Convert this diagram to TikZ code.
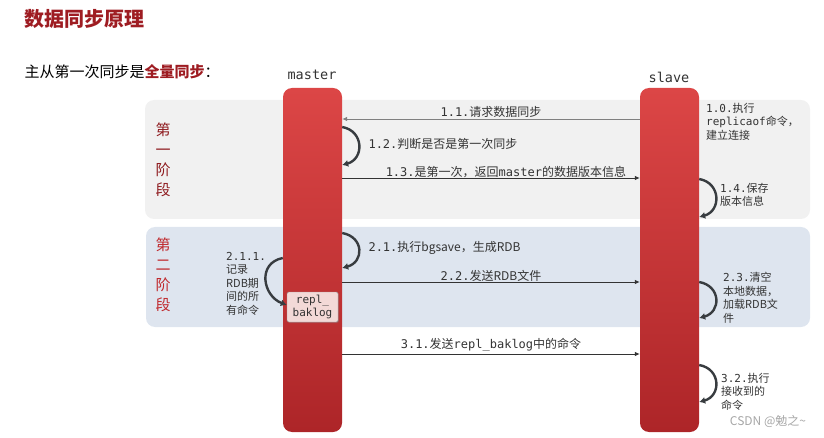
\documentclass[tikz,border=0pt]{standalone}
\usepackage{fontspec}
\setmainfont{Noto Sans CJK SC}
\newfontfamily\monofont{DejaVu Sans Mono}
\usetikzlibrary{arrows.meta,shadows}
\definecolor{titlered}{HTML}{9E1C22}
\definecolor{phaseonered}{HTML}{8E1A1E}
\definecolor{phasetwored}{HTML}{C0282C}
\definecolor{bartop}{HTML}{DC4646}
\definecolor{barbot}{HTML}{AD2528}
\definecolor{phaseone}{HTML}{F1F1F1}
\definecolor{phasetwo}{HTML}{DEE5EF}
\definecolor{labelgray}{HTML}{333333}
\definecolor{loopgray}{HTML}{383C40}
\definecolor{replfill}{HTML}{F3D9D7}
\newcommand{\mn}[1]{{\monofont #1}}
\begin{document}
\begin{tikzpicture}[x=1pt,y=-1pt]
  \tikzstyle{bar}=[draw=none,rectangle,rounded corners=9pt,minimum width=59pt,minimum height=344pt,inner sep=0pt,top color=bartop,bottom color=barbot]
  \tikzstyle{msg}=[draw,line width=0.8pt,-{Latex[length=5pt,width=4.5pt]}]
  \tikzstyle{selfloop}=[draw,loopgray,line width=2.4pt,-{Latex[length=6pt,width=7pt]}]
  \tikzstyle{lbl}=[text=labelgray,font=\fontsize{12}{14}\selectfont]
  \tikzstyle{note}=[text=labelgray,align=left,anchor=north west,inner sep=0pt,font=\fontsize{11}{13.5}\selectfont]
  \tikzstyle{stage}=[align=center,font=\fontsize{15}{20}\selectfont]
  \useasboundingbox (0,0) rectangle (824,438);
  % background of the two phases
  \path[fill=phaseone,rounded corners=9pt] (145,100) rectangle (810,219);
  \path[fill=phasetwo,rounded corners=9pt] (146,227) rectangle (810,327);
  % headings
  \node[anchor=west,text=titlered,font=\fontsize{20}{24}\selectfont\bfseries] (title) at (21,19) {数据同步原理};
  \node[anchor=west,text=black,font=\fontsize{15}{18}\selectfont] (subtitle) at (21,72) {主从第一次同步是{\bfseries\color{titlered}全量同步}：};
  \node[stage,text=phaseonered] (stage1) at (163,160) {第\\一\\阶\\段};
  \node[stage,text=phasetwored] (stage2) at (163,275) {第\\二\\阶\\段};
  % lifelines
  \node[text=labelgray,font=\monofont\fontsize{13.5}{16}\selectfont] (mlabel) at (312,75) {master};
  \node[text=labelgray,font=\monofont\fontsize{13.5}{16}\selectfont] (slabel) at (669,77) {slave};
  \node[bar] (master) at (312.5,260) {};
  \node[bar] (slave) at (669.5,260) {};
  \node[draw=gray!80,fill=replfill,rounded corners=1.5pt,minimum width=51pt,minimum height=30pt,inner sep=1pt,align=center,text=labelgray,font=\monofont\fontsize{11}{13}\selectfont,drop shadow={opacity=0.35,shadow xshift=1pt,shadow yshift=-1pt}] (repl) at (312.5,307) {repl\_\\baklog};
  % phase 1
  \path[msg,draw=gray] (slave.west |- 0,119) -- node[lbl,above,inner sep=1.5pt] (l11) {\mn{1.1.}请求数据同步} (master.east |- 0,119);
  \path[selfloop] (master.east |- 0,127) .. controls +(22,4) and +(22,-6) .. (master.east |- 0,165);
  \node[lbl,anchor=west] (l12) at (365,144) {\mn{1.2.}判断是否是第一次同步};
  \path[msg,draw=labelgray] (master.east |- 0,178) -- node[lbl,above,pos=0.55,inner sep=0pt] (l13) {\mn{1.3.}是第一次，返回\mn{master}的数据版本信息} (slave.west |- 0,178);
  \node[note] (l10) at (706,103) {\mn{1.0.}执行\\\mn{replicaof}命令，\\建立连接};
  \path[selfloop] (slave.east |- 0,179) .. controls +(22,4) and +(22,-6) .. (slave.east |- 0,217);
  \node[note] (l14) at (720,183) {\mn{1.4.}保存\\版本信息};
  % phase 2
  \path[selfloop] (master.east |- 0,233) .. controls +(22,4) and +(22,-6) .. (master.east |- 0,268);
  \node[lbl,anchor=west] (l21) at (365,248) {\mn{2.1.}执行bgsave，生成RDB};
  \path[msg,draw=labelgray] (master.east |- 0,282) -- node[lbl,above,inner sep=0.5pt] (l22) {\mn{2.2.}发送RDB文件} (slave.west |- 0,282);
  \path[selfloop] (slave.east |- 0,282) .. controls +(22,4) and +(22,-6) .. (slave.east |- 0,318);
  \node[note] (l23) at (723,272) {\mn{2.3.}清空\\本地数据，\\加载RDB文\\件};
  \path[selfloop] (master.west |- 0,258) .. controls +(-26,5) and +(-24,-9) .. (repl.west |- 0,305);
  \node[note] (l211) at (226,252) {\mn{2.1.1.}\\记录\\RDB期\\间的所\\有命令};
  % phase 3
  \path[msg,draw=labelgray] (master.east |- 0,354) -- node[lbl,above,inner sep=2pt] (l31) {\mn{3.1.}发送\mn{repl\_baklog}中的命令} (slave.west |- 0,354);
  \path[selfloop] (slave.east |- 0,365) .. controls +(22,4) and +(22,-6) .. (slave.east |- 0,402);
  \node[note] (l32) at (721,373) {\mn{3.2.}执行\\接收到的\\命令};
  \node[text=gray!70,font=\fontsize{12}{14}\selectfont] (mark) at (768,421) {CSDN @勉之\textasciitilde};
\end{tikzpicture}
\end{document}
